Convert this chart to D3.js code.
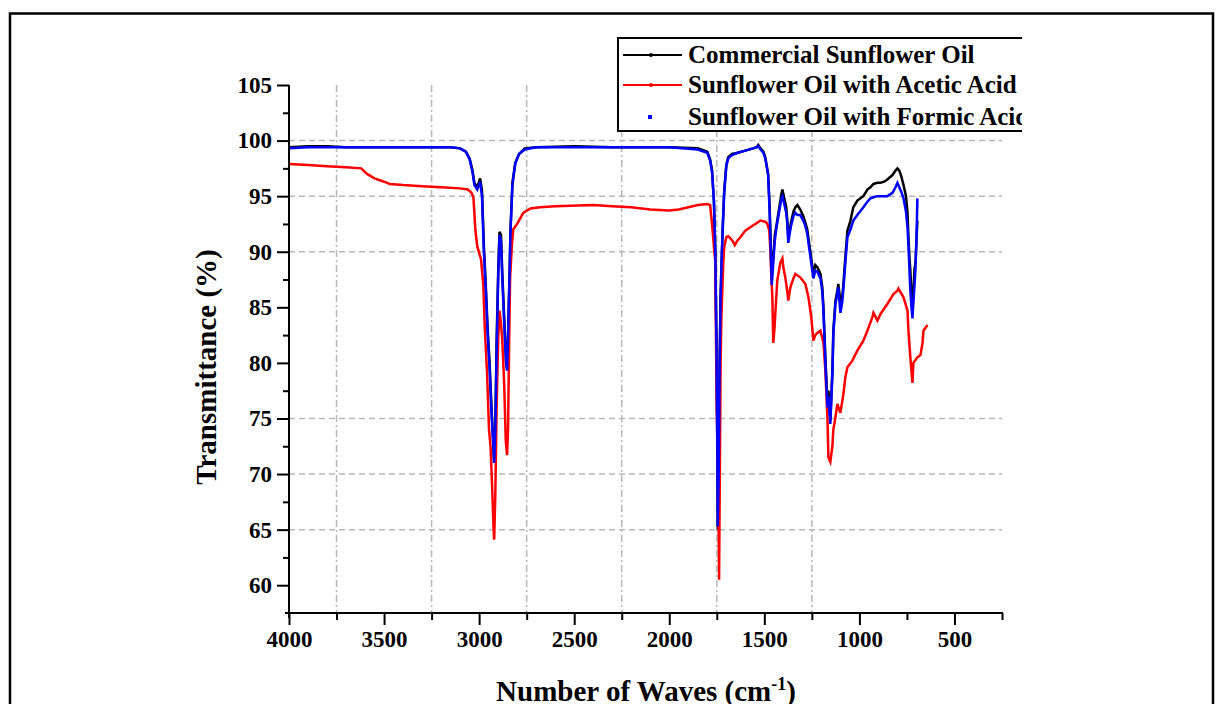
<!DOCTYPE html>
<html>
<head>
<meta charset="utf-8">
<script src="https://cdn.jsdelivr.net/npm/d3@7"></script>
<style>
  body { margin: 0; background: #fff; }
  text { font-family: "Liberation Serif", "Times New Roman", serif; font-weight: bold; }
</style>
</head>
<body>
<div id="chart"></div>
<script>
// series data: [wavenumber (cm-1), transmittance (%)]
var commercial = [
  [4000,99.4],[3900,99.5],[3800,99.5],[3700,99.4],[3500,99.4],[3300,99.4],[3150,99.4],[3100,99.3],
  [3070,99.0],[3050,98.4],[3035,97.3],[3025,96.2],[3010,95.8],[2995,96.6],[2985,95.5],[2975,90.5],
  [2965,87],[2955,83],[2945,80],[2935,76],[2925,72.5],[2921,71.0],[2915,74],[2908,82],[2900,88],
  [2893,91.8],[2885,91.5],[2878,88],[2868,84],[2858,80],[2853,79.5],[2847,83],[2840,88],[2835,92],
  [2825,96.2],[2810,98],[2790,98.8],[2760,99.3],[2700,99.4],[2500,99.5],[2300,99.4],[2000,99.4],
  [1850,99.3],[1800,99.0],[1785,98.3],[1775,97.3],[1765,94.5],[1758,90],[1752,82],[1747,72],
  [1745,65.0],[1740,70],[1735,80],[1730,86],[1724,89.5],[1718,92.5],[1711,95.5],[1700,97.8],
  [1690,98.5],[1670,98.8],[1640,98.9],[1600,99.1],[1560,99.3],[1540,99.4],[1532,99.6],[1520,99.3],
  [1505,99.0],[1495,98.5],[1480,97.0],[1472,94],[1466,90.4],[1461,87.7],[1455,89],[1445,91.5],
  [1435,92.5],[1426,93.5],[1410,95.2],[1405,95.6],[1395,94.8],[1385,94.0],[1379,92.8],[1374,91.2],
  [1368,91.8],[1360,92.6],[1347,93.6],[1337,94.0],[1326,94.2],[1311,93.8],[1295,93.2],[1284,92.6],
  [1274,92.0],[1268,91.2],[1258,90.0],[1247,88.6],[1242,88.0],[1232,88.8],[1221,88.6],[1205,88.0],
  [1195,86.8],[1189,85.0],[1179,80.5],[1168,76.5],[1163,77.5],[1153,74.8],[1142,79.3],[1137,82.9],
  [1126,85.6],[1116,86.5],[1111,87.1],[1100,85.5],[1090,86.0],[1084,87.1],[1074,89.5],[1063,91.9],
  [1047,92.8],[1032,94.0],[1011,94.6],[979,95.0],[958,95.6],[942,95.8],[926,96.1],[905,96.2],
  [889,96.2],[870,96.3],[853,96.5],[826,96.9],[810,97.3],[800,97.5],[790,97.3],[780,96.8],
  [768,96.0],[755,95.0],[747,93.5],[742,91.3],[737,89.5],[732,88.3],[726,86.0],[721,84.5],
  [716,86.5],[710,88.5],[705,89.0],[700,91.0],[695,92.8]
];

var acetic = [
  [4000,97.9],[3900,97.8],[3800,97.7],[3700,97.6],[3620,97.5],[3590,97.0],[3550,96.6],[3500,96.3],
  [3470,96.1],[3400,96.0],[3300,95.9],[3200,95.8],[3100,95.7],[3060,95.6],[3040,95.3],[3030,94.9],
  [3025,93.5],[3020,92.0],[3010,90.5],[2990,89.3],[2978,87.0],[2970,83.0],[2958,79],[2948,74],
  [2940,72.5],[2932,69],[2925,65.5],[2921,64.1],[2915,68],[2908,76],[2900,82],[2893,84.7],
  [2885,83.5],[2878,82],[2868,78],[2860,73],[2853,71.7],[2848,74],[2842,82],[2837,87.7],
  [2828,90.5],[2821,92.0],[2800,92.5],[2768,93.5],[2730,93.9],[2680,94.0],[2600,94.1],[2400,94.2],
  [2300,94.1],[2200,94.0],[2100,93.8],[2000,93.7],[1950,93.8],[1900,94.0],[1850,94.2],[1800,94.3],
  [1785,94.2],[1778,93.0],[1770,91.5],[1763,90],[1758,89.2],[1753,80],[1750,76],[1747,73],
  [1742,69],[1738,60.5],[1734,70],[1730,80],[1726,84],[1721,86.5],[1716,89],[1711,90.4],
  [1700,91.3],[1690,91.4],[1679,91.2],[1668,91.0],[1655,90.6],[1642,91.0],[1626,91.3],[1600,91.9],
  [1574,92.2],[1537,92.6],[1521,92.8],[1495,92.7],[1484,92.5],[1474,91.9],[1468,90.0],[1463,87.7],
  [1458,86.0],[1453,81.8],[1447,83],[1442,84.5],[1432,87.4],[1416,89.0],[1405,89.4],[1400,88.6],
  [1389,87.6],[1379,86.4],[1374,85.6],[1363,86.8],[1347,87.6],[1337,88.0],[1311,87.7],[1284,87.1],
  [1268,85.9],[1253,84.1],[1242,82.0],[1232,82.5],[1221,82.7],[1205,82.9],[1189,81.8],[1179,79.3],
  [1168,75.0],[1163,71.5],[1153,71.1],[1142,72.5],[1137,74.0],[1126,75.1],[1116,76.3],[1100,75.5],
  [1084,77.2],[1074,78.7],[1063,79.6],[1037,80.2],[1011,81.1],[979,82.0],[958,82.9],[932,84.1],
  [926,84.5],[905,83.8],[889,84.4],[853,85.3],[821,86.2],[800,86.5],[795,86.7],[768,85.9],
  [747,84.7],[742,82.9],[732,80.5],[721,78.2],[716,80.0],[695,80.5],[679,80.7],[668,81.8],
  [663,82.9],[642,83.4]
];

var formic = [
  [4000,99.3],[3900,99.4],[3800,99.4],[3700,99.4],[3500,99.4],[3300,99.4],[3150,99.4],[3100,99.3],
  [3070,99.0],[3050,98.3],[3035,97.2],[3025,96.0],[3010,95.6],[2995,96.3],[2985,95.0],[2975,90.0],
  [2965,86.5],[2955,82.5],[2945,79.5],[2935,75.5],[2925,72.5],[2921,71.0],[2915,74],[2908,81],
  [2900,87.5],[2893,91.5],[2885,91.0],[2878,87.5],[2868,83.5],[2858,80],[2853,79.3],[2847,83],
  [2840,88],[2835,91.8],[2825,96.0],[2810,97.9],[2790,98.8],[2760,99.2],[2700,99.4],[2500,99.4],
  [2300,99.4],[2000,99.4],[1850,99.2],[1800,98.9],[1785,98.2],[1775,97.2],[1765,94.5],[1758,90],
  [1752,82],[1747,72],[1745,65.3],[1740,70],[1735,80],[1730,86],[1724,89.5],[1718,92.5],
  [1711,95.3],[1700,97.7],[1690,98.4],[1670,98.7],[1640,98.9],[1600,99.1],[1560,99.3],[1540,99.4],
  [1532,99.5],[1520,99.2],[1505,98.9],[1495,98.4],[1480,96.9],[1472,93.5],[1466,90.0],[1461,87.0],
  [1455,88.5],[1445,91.0],[1435,92.3],[1426,93.2],[1410,94.8],[1405,95.0],[1395,94.3],[1385,93.5],
  [1379,92.5],[1374,90.8],[1368,91.5],[1360,92.3],[1347,93.2],[1337,93.5],[1326,93.3],[1311,93.3],
  [1295,92.8],[1284,92.3],[1274,91.6],[1268,90.8],[1258,89.6],[1247,88.2],[1242,87.6],[1232,88.3],
  [1221,88.2],[1205,87.6],[1195,86.4],[1189,84.6],[1179,80.0],[1168,76.0],[1163,77.0],[1153,74.5],
  [1142,79.0],[1137,82.6],[1126,85.3],[1116,86.2],[1111,86.8],[1100,84.5],[1090,85.5],[1084,86.7],
  [1074,89.0],[1063,91.3],[1047,92.0],[1032,92.8],[1011,93.3],[979,94.0],[958,94.5],[942,94.8],
  [926,94.9],[905,95.0],[889,95.0],[870,95.0],[853,95.0],[826,95.3],[810,95.8],[800,96.2],
  [790,95.8],[780,95.4],[768,94.8],[755,93.6],[747,92.2],[742,90.5],[737,88.5],[732,86.5],
  [726,85.0],[721,84.0],[716,85.5],[710,87.0],[705,88.5],[700,91.0],[695,94.8]
];

var seriesNames = ["Commercial Sunflower Oil", "Sunflower Oil with Acetic Acid", "Sunflower Oil with Formic Acid"];
var seriesColors = ["#000000", "#ff0000", "#0000ff"];

var xTicks = [4000, 3500, 3000, 2500, 2000, 1500, 1000, 500];
var xMinor = [3750, 3250, 2750, 2250, 1750, 1250, 750, 250];
var xGrid = [3750, 3250, 2750, 2250, 1750, 1250];
var yTicks = [60, 65, 70, 75, 80, 85, 90, 95, 100, 105];
var yMinor = [62.5, 67.5, 72.5, 77.5, 82.5, 87.5, 92.5, 97.5, 102.5];
var yGrid = [100, 95, 90, 75, 70, 65];

var W = 1225, H = 704;
var mLeft = 289, mRight = 1002, mTop = 85, mBottom = 613;

var svg = d3.select("#chart").append("svg")
  .attr("width", W)
  .attr("height", H);

// outer frame of the figure
svg.append("rect")
  .attr("x", 10).attr("y", 13.5)
  .attr("width", 1203).attr("height", 720)
  .attr("fill", "none")
  .attr("stroke", "#000")
  .attr("stroke-width", 2.5);

var x = d3.scaleLinear().domain([4000, 250]).range([mLeft, mRight]);
var y = d3.scaleLinear().domain([57.5, 105]).range([mBottom, mTop]);

// grid
svg.append("g").selectAll("line")
  .data(yGrid).enter().append("line")
  .attr("x1", mLeft).attr("x2", mRight)
  .attr("y1", d => y(d)).attr("y2", d => y(d))
  .attr("stroke", "#b8b8b8")
  .attr("stroke-width", 1.5)
  .attr("stroke-dasharray", "6,4");

svg.append("g").selectAll("line")
  .data(xGrid).enter().append("line")
  .attr("x1", d => x(d)).attr("x2", d => x(d))
  .attr("y1", mTop).attr("y2", mBottom)
  .attr("stroke", "#b8b8b8")
  .attr("stroke-width", 1.5)
  .attr("stroke-dasharray", "7,3,2,3");

// spectra
var line = d3.line()
  .x(d => x(d[0]))
  .y(d => y(d[1]));

[commercial, acetic, formic].forEach(function(data, i) {
  svg.append("path")
    .datum(data)
    .attr("fill", "none")
    .attr("stroke", seriesColors[i])
    .attr("stroke-width", 2.5)
    .attr("d", line);
});

// axes
var xAxis = d3.axisBottom(x).tickValues(xTicks).tickSize(12).tickSizeOuter(0).tickPadding(6).tickFormat(d3.format("d"));
var xAxisMinor = d3.axisBottom(x).tickValues(xMinor).tickSize(7).tickSizeOuter(0).tickFormat("");
var yAxis = d3.axisLeft(y).tickValues(yTicks).tickSize(12).tickSizeOuter(0).tickPadding(5).tickFormat(d3.format("d"));
var yAxisMinor = d3.axisLeft(y).tickValues(yMinor).tickSize(6).tickSizeOuter(0).tickFormat("");

function styleAxis(g) {
  g.select(".domain").remove();
  g.selectAll(".tick line").attr("stroke", "#000").attr("stroke-width", 2);
  g.selectAll(".tick text")
    .attr("fill", "#000")
    .style("font-family", "'Liberation Serif', serif")
    .style("font-weight", "bold")
    .style("font-size", "23px");
}

svg.append("g").attr("transform", `translate(0,${mBottom})`).call(xAxis).call(styleAxis);
svg.append("g").attr("transform", `translate(0,${mBottom})`).call(xAxisMinor).call(styleAxis);
svg.append("g").attr("transform", `translate(${mLeft},0)`).call(yAxis).call(styleAxis);
svg.append("g").attr("transform", `translate(${mLeft},0)`).call(yAxisMinor).call(styleAxis);

svg.append("line")
  .attr("x1", mLeft - 4).attr("x2", mRight + 1)
  .attr("y1", mBottom).attr("y2", mBottom)
  .attr("stroke", "#000").attr("stroke-width", 2);
svg.append("line")
  .attr("x1", mLeft).attr("x2", mLeft)
  .attr("y1", mTop).attr("y2", mBottom + 5)
  .attr("stroke", "#000").attr("stroke-width", 2);

// axis titles
svg.append("text")
  .attr("transform", "translate(216,367) rotate(-90)")
  .attr("text-anchor", "middle")
  .style("font-size", "29px")
  .text("Transmittance (%)");

var xt = svg.append("text")
  .attr("x", 646).attr("y", 701)
  .attr("text-anchor", "middle")
  .style("font-size", "29px");
xt.append("tspan").text("Number of Waves (cm");
xt.append("tspan").attr("dy", -11).style("font-size", "18px").text("-1");
xt.append("tspan").attr("dy", 11).text(")");

// legend, clipped at the right like the source picture
svg.append("clipPath").attr("id", "legclip")
  .append("rect").attr("x", 0).attr("y", 0).attr("width", 1022).attr("height", H);

var leg = svg.append("g").attr("clip-path", "url(#legclip)");
leg.append("rect")
  .attr("x", 618).attr("y", 38)
  .attr("width", 440).attr("height", 93)
  .attr("fill", "#fff")
  .attr("stroke", "#000")
  .attr("stroke-width", 2);

var legY = [55, 85, 117];
var legText = [63, 93, 125];
seriesNames.forEach(function(name, i) {
  if (i < 2) {
    leg.append("line")
      .attr("x1", 623).attr("x2", 682)
      .attr("y1", legY[i]).attr("y2", legY[i])
      .attr("stroke", seriesColors[i]).attr("stroke-width", 2);
    leg.append("circle")
      .attr("cx", 651).attr("cy", legY[i]).attr("r", 2)
      .attr("fill", seriesColors[i]);
  } else {
    leg.append("rect")
      .attr("x", 648).attr("y", legY[i] - 2)
      .attr("width", 4).attr("height", 4)
      .attr("fill", seriesColors[i]);
  }
  leg.append("text")
    .attr("x", 688).attr("y", legText[i])
    .style("font-size", "25px")
    .text(name);
});
</script>
</body>
</html>
